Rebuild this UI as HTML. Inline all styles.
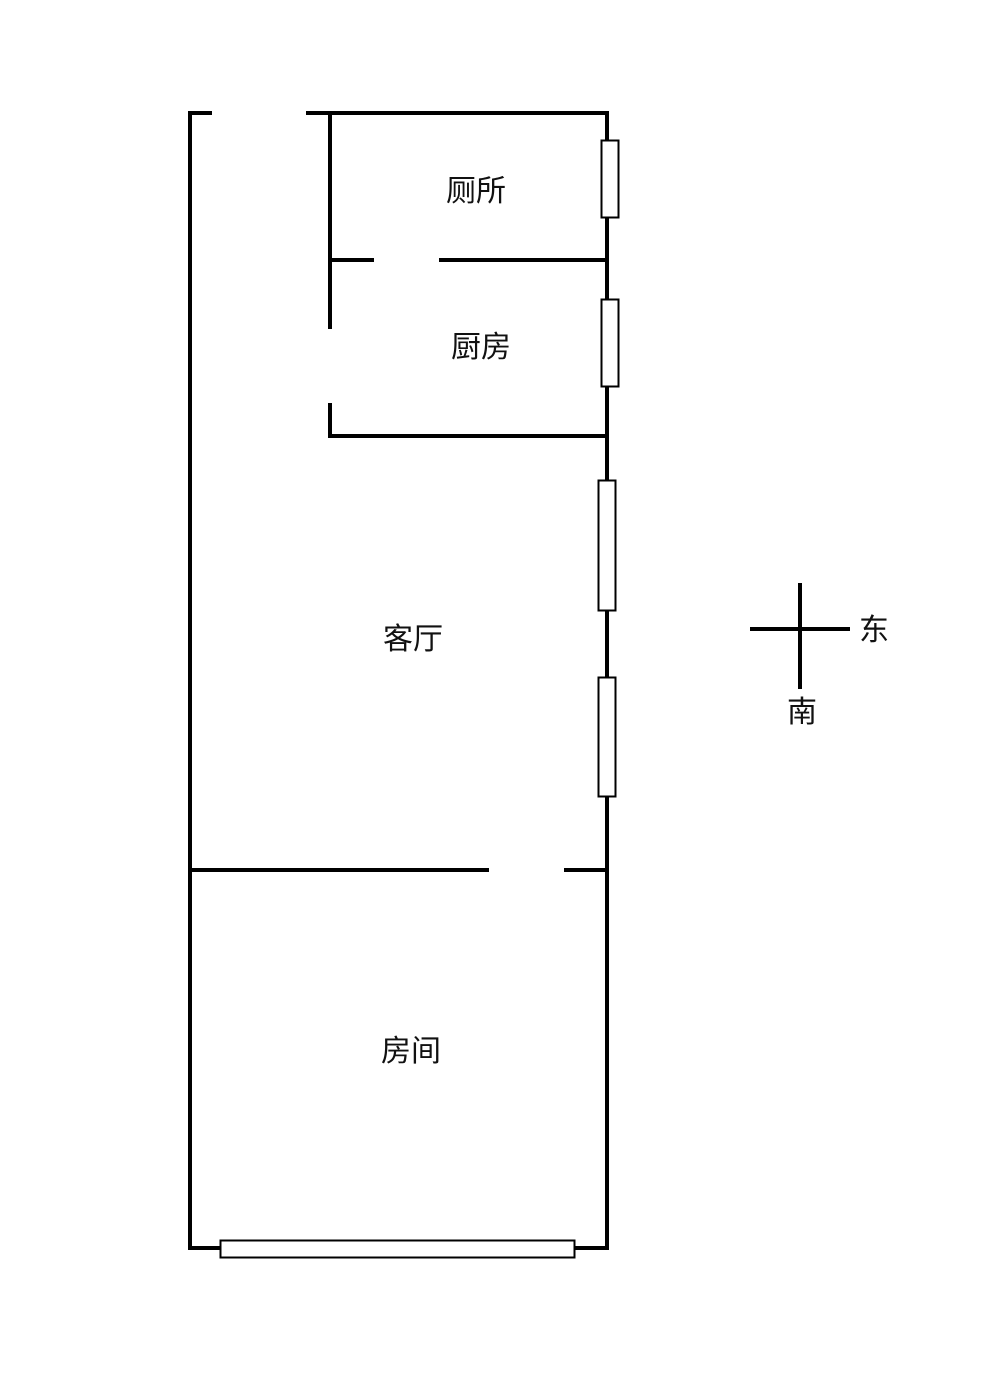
<!DOCTYPE html>
<html>
<head>
<meta charset="utf-8">
<style>
html,body{margin:0;padding:0;background:#fff;width:1000px;height:1380px;overflow:hidden}
svg{display:block}
text{font-family:"Liberation Sans","Noto Sans CJK SC",sans-serif;font-size:30px;fill:#111}
</style>
</head>
<body>
<svg width="1000" height="1380" viewBox="0 0 1000 1380" xmlns="http://www.w3.org/2000/svg">
<g stroke="#000" stroke-width="4" fill="none">
<path d="M212 113H190V1248H220"/>
<path d="M306 113H607V1248H575"/>
<path d="M330 113V329"/>
<path d="M330 403V436H607"/>
<path d="M330 260H374"/>
<path d="M439 260H607"/>
<path d="M190 870H489"/>
<path d="M564 870H607"/>
<path d="M750 629H850"/>
<path d="M800 583V689"/>
</g>
<g stroke="#000" stroke-width="2" fill="#fff">
<rect x="601.500" y="140.500" width="17" height="77"/>
<rect x="601.500" y="299.500" width="17" height="87"/>
<rect x="598.500" y="480.500" width="17" height="130"/>
<rect x="598.500" y="677.500" width="17" height="119"/>
<rect x="220.500" y="1240.500" width="354" height="17"/>
</g>
<text x="446" y="201">厕所</text>
<text x="451" y="357">厨房</text>
<text x="383" y="649">客厅</text>
<text x="381" y="1061">房间</text>
<text x="859" y="640">东</text>
<text x="787" y="722">南</text>
</svg>
</body>
</html>
